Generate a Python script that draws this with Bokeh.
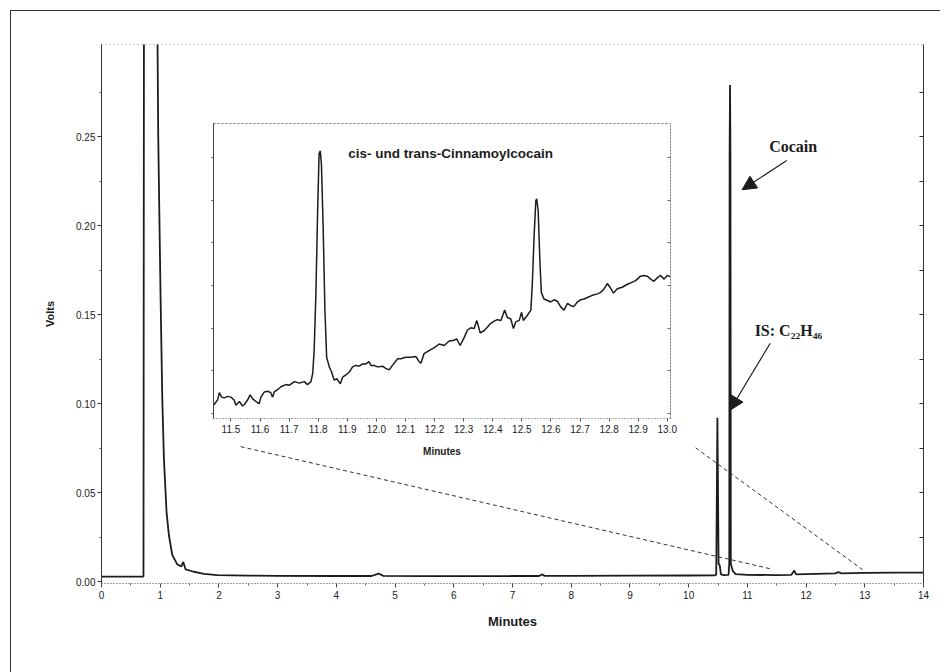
from bokeh.plotting import figure
from bokeh.models import (Range1d, LinearAxis, FixedTicker, PrintfTickFormatter,
                          CustomJSTickFormatter, Label, Arrow, NormalHead, Div)
from bokeh.layouts import column
from bokeh.embed import file_html
from bokeh.resources import INLINE

SANS = "Liberation Sans"
SERIF = "Liberation Serif"
INK = "#1c1c1c"

# ---------------- data: full chromatogram (minutes, volts) ----------------
main_minutes = [0.00, 0.40, 0.715, 0.725, 0.94, 0.955, 0.966, 0.983, 1.006, 1.035,
                1.063, 1.108, 1.148, 1.205, 1.290, 1.360, 1.393, 1.432, 1.574, 1.745,
                1.972, 2.5, 3.0, 4.0, 4.60, 4.72, 4.80, 5.5, 6.0, 7.0,
                7.45, 7.50, 7.55, 8.0, 9.0, 10.0, 10.45, 10.47, 10.49, 10.51,
                10.53, 10.55, 10.60, 10.68, 10.692, 10.698, 10.705, 10.712, 10.718, 10.735,
                10.75, 10.80, 11.0, 11.5, 11.75, 11.80, 11.83, 12.0, 12.5, 12.55,
                12.60, 13.0, 13.5, 14.0]
main_volts = [0.0028, 0.0028, 0.0028, 0.40, 0.40, 0.300, 0.251, 0.212, 0.160, 0.103,
              0.069, 0.039, 0.026, 0.015, 0.0096, 0.0085, 0.011, 0.0068, 0.0055, 0.0043,
              0.0036, 0.0033, 0.0032, 0.0031, 0.0031, 0.0045, 0.0032, 0.0030, 0.0030, 0.0031,
              0.0031, 0.0040, 0.0032, 0.0032, 0.0033, 0.0034, 0.0035, 0.0040, 0.092, 0.010,
              0.0090, 0.0040, 0.0036, 0.0038, 0.010, 0.240, 0.279, 0.240, 0.010, 0.008,
              0.006, 0.0042, 0.0038, 0.0036, 0.0038, 0.0062, 0.0040, 0.0042, 0.0046, 0.0053,
              0.0046, 0.0049, 0.0050, 0.0050]

# ---------------- data: inset (minutes, millivolts) ----------------
inset_minutes = [
    11.440, 11.454, 11.460, 11.468, 11.477, 11.489, 11.500, 11.511, 11.517, 11.529,
    11.540, 11.546, 11.557, 11.566, 11.574, 11.586, 11.597, 11.603, 11.615, 11.626,
    11.637, 11.643, 11.649, 11.660, 11.672, 11.689, 11.700, 11.718, 11.735, 11.752,
    11.763, 11.775, 11.781, 11.786, 11.792, 11.798, 11.803, 11.807, 11.811, 11.817,
    11.823, 11.829, 11.838, 11.846, 11.855, 11.864, 11.876, 11.884, 11.895, 11.907,
    11.918, 11.929, 11.941, 11.952, 11.964, 11.975, 11.981, 11.992, 12.004, 12.021,
    12.032, 12.044, 12.055, 12.073, 12.084, 12.101, 12.118, 12.136, 12.147, 12.153,
    12.164, 12.181, 12.199, 12.216, 12.233, 12.250, 12.267, 12.276, 12.288, 12.302,
    12.313, 12.324, 12.336, 12.345, 12.357, 12.370, 12.382, 12.393, 12.405, 12.416,
    12.428, 12.441, 12.450, 12.462, 12.471, 12.479, 12.491, 12.499, 12.505, 12.519,
    12.531, 12.536, 12.542, 12.548, 12.551, 12.556, 12.562, 12.567, 12.576, 12.588,
    12.599, 12.611, 12.622, 12.634, 12.645, 12.657, 12.668, 12.679, 12.691, 12.702,
    12.714, 12.725, 12.742, 12.760, 12.771, 12.783, 12.794, 12.803, 12.815, 12.828,
    12.845, 12.863, 12.880, 12.891, 12.908, 12.920, 12.931, 12.943, 12.954, 12.966,
    12.977, 12.989, 13.000, 13.012]
inset_mv = [
    2.68, 2.75, 2.85, 2.79, 2.78, 2.80, 2.79, 2.75, 2.68, 2.73,
    2.67, 2.69, 2.75, 2.82, 2.77, 2.73, 2.70, 2.79, 2.86, 2.87,
    2.85, 2.79, 2.86, 2.89, 2.93, 2.96, 2.95, 3.00, 2.98, 3.00,
    2.96, 3.00, 3.11, 3.42, 4.19, 5.32, 6.09, 6.13, 5.95, 5.09,
    3.97, 3.33, 3.20, 3.13, 3.02, 3.04, 2.97, 3.06, 3.09, 3.13,
    3.20, 3.22, 3.21, 3.24, 3.24, 3.27, 3.22, 3.22, 3.20, 3.21,
    3.18, 3.16, 3.22, 3.31, 3.31, 3.33, 3.33, 3.34, 3.27, 3.25,
    3.38, 3.42, 3.46, 3.51, 3.49, 3.55, 3.56, 3.58, 3.49, 3.60,
    3.70, 3.73, 3.72, 3.83, 3.66, 3.69, 3.74, 3.79, 3.82, 3.84,
    3.83, 3.97, 3.87, 3.85, 3.72, 3.81, 3.83, 3.94, 3.83, 3.90,
    3.97, 4.33, 4.96, 5.45, 5.48, 5.32, 4.64, 4.21, 4.12, 4.10,
    4.08, 4.11, 4.09, 4.01, 3.97, 4.06, 4.03, 4.02, 4.08, 4.11,
    4.12, 4.14, 4.17, 4.19, 4.21, 4.26, 4.33, 4.28, 4.20, 4.26,
    4.28, 4.32, 4.35, 4.37, 4.43, 4.44, 4.43, 4.39, 4.36, 4.41,
    4.44, 4.39, 4.44, 4.42]

# ---------------- ticks / labels ----------------
y_major_ticks = [0.00, 0.05, 0.10, 0.15, 0.20, 0.25]
y_minor_ticks = [0.025, 0.075, 0.125, 0.175, 0.225, 0.275]
y_right_ticks = [0.025, 0.05, 0.075, 0.10, 0.125, 0.15, 0.175, 0.20, 0.225, 0.25, 0.275]
x_major_ticks = [0, 1, 2, 3, 4, 5, 6, 7, 8, 9, 10, 11, 12, 13, 14]
x_minor_ticks = [0.5, 1.5, 2.5, 3.5, 4.5, 5.5, 6.5, 7.5, 8.5, 9.5, 10.5, 11.5, 12.5, 13.5]
inset_x_ticks = [11.5, 11.6, 11.7, 11.8, 11.9, 12.0, 12.1, 12.2, 12.3, 12.4,
                 12.5, 12.6, 12.7, 12.8, 12.9, 13.0]
inset_y_ticks = [2.57, 3.15, 3.72, 4.30, 4.89, 5.46, 6.04]

inset_title = "cis- und trans-Cinnamoylcocain"
label_cocain = "Cocain"
label_is = "IS: C\u2082\u2082H\u2084\u2086"

assert len(main_minutes) == len(main_volts)
assert len(inset_minutes) == len(inset_mv)

blank = CustomJSTickFormatter(code="return ''")

# ---------------- page frame (left and top edge of the scanned page) ----------------
frame_div = Div(width=930, height=662, margin=(10, 0, 0, 10),
                styles={"border-left": "1.5px solid #333", "border-top": "1.5px solid #333",
                        "border-right": "none", "border-bottom": "none"})

# ---------------- main figure ----------------
p = figure(width=932, height=656, x_range=Range1d(0, 14), y_range=Range1d(-0.0011, 0.3017),
           output_backend="svg", toolbar_location=None,
           min_border_left=101, min_border_right=9, min_border_top=44, min_border_bottom=73,
           x_axis_label="Minutes", y_axis_label="Volts",
           background_fill_color=None, border_fill_color=None, outline_line_color=None,
           margin=(-672, 0, 0, 0))
p.grid.visible = False

xa = p.xaxis[0]
xa.ticker = FixedTicker(ticks=x_major_ticks, minor_ticks=x_minor_ticks)
xa.axis_line_color = "#444"
xa.axis_line_dash = "1 2"
xa.major_tick_out = 4
xa.major_tick_in = 0
xa.minor_tick_out = 2
xa.minor_tick_in = 0
xa.major_tick_line_color = "#444"
xa.minor_tick_line_color = "#666"
xa.major_label_text_font = SANS
xa.major_label_text_font_size = "10px"
xa.major_label_text_color = INK
xa.major_label_standoff = 3
xa.axis_label_text_font = SANS
xa.axis_label_text_font_style = "bold"
xa.axis_label_text_font_size = "13px"
xa.axis_label_text_color = INK
xa.axis_label_standoff = 12

ya = p.yaxis[0]
ya.ticker = FixedTicker(ticks=y_major_ticks, minor_ticks=y_minor_ticks)
ya.formatter = PrintfTickFormatter(format="%.2f")
ya.axis_line_color = "#333"
ya.major_tick_out = 4
ya.major_tick_in = 0
ya.minor_tick_out = 2
ya.minor_tick_in = 0
ya.major_tick_line_color = "#333"
ya.minor_tick_line_color = "#555"
ya.major_label_text_font = SANS
ya.major_label_text_font_size = "10px"
ya.major_label_text_color = INK
ya.major_label_standoff = 2
ya.axis_label_text_font = SANS
ya.axis_label_text_font_style = "bold"
ya.axis_label_text_font_size = "11px"
ya.axis_label_text_color = INK
ya.axis_label_standoff = 17

ra = LinearAxis(ticker=FixedTicker(ticks=y_right_ticks), formatter=blank,
                axis_line_color="#333", major_tick_in=4, major_tick_out=0,
                minor_tick_in=0, minor_tick_out=0, major_tick_line_color="#333",
                major_label_standoff=0)
p.add_layout(ra, "right")

ta = LinearAxis(ticker=FixedTicker(ticks=[]), formatter=blank,
                axis_line_color="#888", axis_line_dash="1 3",
                major_tick_in=0, major_tick_out=0, minor_tick_in=0, minor_tick_out=0,
                major_label_standoff=0)
p.add_layout(ta, "above")

p.line(main_minutes, main_volts, line_width=1.8, line_color=INK)

# dashed connectors from the inset to the zoomed range
for xs, ys, xe, ye in [(2.37, 0.0758, 11.40, 0.0071), (10.12, 0.0751, 12.96, 0.0067)]:
    p.add_layout(Arrow(x_start=xs, y_start=ys, x_end=xe, y_end=ye, end=None,
                       line_color="#333", line_width=1, line_dash="4 3"))

# annotation arrows
p.add_layout(Arrow(x_start=11.67, y_start=0.2365, x_end=10.91, y_end=0.2201,
                   line_color=INK, line_width=1.2,
                   end=NormalHead(size=14, fill_color=INK, line_color=INK)))
p.add_layout(Arrow(x_start=11.39, y_start=0.1339, x_end=10.70, y_end=0.0961,
                   line_color=INK, line_width=1.2,
                   end=NormalHead(size=14, fill_color=INK, line_color=INK)))

p.add_layout(Label(x=11.78, y=0.2444, text=label_cocain, text_font=SERIF,
                   text_font_style="bold", text_font_size="16px", text_color=INK,
                   text_align="center", text_baseline="middle"))
p.add_layout(Label(x=11.70, y=0.1410, text=label_is, text_font=SERIF,
                   text_font_style="bold", text_font_size="16px", text_color=INK,
                   text_align="center", text_baseline="middle"))

# ---------------- inset figure ----------------
ins = figure(width=567, height=355, x_range=Range1d(11.44, 13.011), y_range=Range1d(2.5, 6.5),
             output_backend="svg", toolbar_location=None,
             min_border_left=101, min_border_right=9, min_border_top=10, min_border_bottom=50,
             x_axis_label="Minutes",
             background_fill_color=None, border_fill_color=None, outline_line_color=None,
             margin=(-543, 0, 0, 112))
ins.grid.visible = False

ix = ins.xaxis[0]
ix.ticker = FixedTicker(ticks=inset_x_ticks)
ix.formatter = PrintfTickFormatter(format="%.1f")
ix.axis_line_color = "#555"
ix.axis_line_dash = "1 2"
ix.major_tick_out = 3
ix.major_tick_in = 0
ix.minor_tick_out = 0
ix.minor_tick_in = 0
ix.major_tick_line_color = "#555"
ix.major_label_text_font = SANS
ix.major_label_text_font_size = "10px"
ix.major_label_text_color = INK
ix.major_label_standoff = 3
ix.axis_label_text_font = SANS
ix.axis_label_text_font_style = "bold"
ix.axis_label_text_font_size = "10px"
ix.axis_label_text_color = INK
ix.axis_label_standoff = 10

iy = ins.yaxis[0]
iy.ticker = FixedTicker(ticks=inset_y_ticks)
iy.formatter = blank
iy.axis_line_color = "#444"
iy.major_tick_out = 2
iy.major_tick_in = 0
iy.minor_tick_out = 0
iy.minor_tick_in = 0
iy.major_tick_line_color = "#555"
iy.major_label_standoff = 0

ins.add_layout(LinearAxis(ticker=FixedTicker(ticks=inset_y_ticks), formatter=blank,
                          axis_line_color="#777", axis_line_dash="2 1",
                          major_tick_in=3, major_tick_out=0, minor_tick_in=0, minor_tick_out=0,
                          major_tick_line_color="#666", major_label_standoff=0), "right")
ins.add_layout(LinearAxis(ticker=FixedTicker(ticks=[]), formatter=blank,
                          axis_line_color="#666", axis_line_dash="2 2",
                          major_tick_in=0, major_tick_out=0, minor_tick_in=0, minor_tick_out=0,
                          major_label_standoff=0), "above")

ins.line(inset_minutes, inset_mv, line_width=1.5, line_color=INK)

ins.add_layout(Label(x=12.255, y=6.094, text=inset_title, text_font=SANS,
                     text_font_style="bold", text_font_size="13.5px", text_color=INK,
                     text_align="center", text_baseline="middle"))

layout = column(frame_div, p, ins)

open("out.html", "w").write(file_html(layout, INLINE))
